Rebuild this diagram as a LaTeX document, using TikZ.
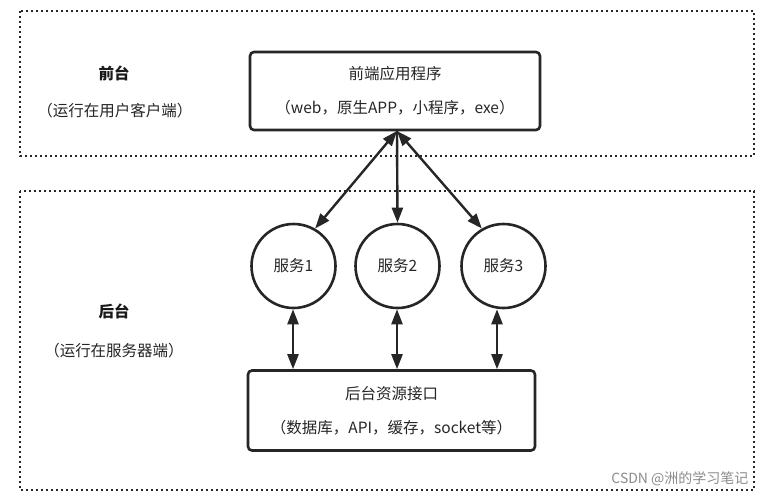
\documentclass[tikz,border=0pt]{standalone}
\usepackage{fontspec}
\setmainfont{Noto Sans CJK SC}
\usetikzlibrary{arrows.meta}
\begin{document}
\begin{tikzpicture}[x=1pt,y=-1pt,
  region/.style={draw=black!85, line width=2.2pt, dash pattern=on 2.2pt off 2.8pt, fill=white},
  appbox/.style={draw=black!85, line width=2.6pt, rounded corners=4pt, fill=white, minimum width=290pt, minimum height=78pt, align=center, font=\fontsize{15.5}{34}\selectfont, text=black!85},
  svc/.style={circle, draw=black!85, line width=2.6pt, minimum size=84pt, inner sep=0pt, font=\fontsize{15.5}{18}\selectfont, text=black!85},
  lbl/.style={font=\fontsize{15.5}{18}\selectfont, text=black!85},
  hd/.style={font=\bfseries\fontsize{15.5}{18}\selectfont, text=black!90},
  conn/.style={draw=black!85, line width=2.4pt, -{Triangle[length=15pt,width=11pt]}},
  biconn/.style={draw=black!85, line width=2.4pt, {Triangle[length=15pt,width=11pt]}-{Triangle[length=15pt,width=11pt]}}
]
\useasboundingbox (0,0) rectangle (769,501);
\fill[white] (0,0) rectangle (769,501);
\draw[region] (20,11) rectangle (754,156);
\draw[region] (20,191) rectangle (754,490);

\node[hd] (fh) at (114,73) {前台};
\node[lbl] (fs) at (115,111) {（运行在用户客户端）};
\node[hd] (bh) at (114,311) {后台};
\node[lbl] (bs) at (114,351) {（运行在服务器端）};

\node[appbox] (front) at (395,91) {前端应用程序\\（web，原生APP，小程序，exe）};
\node[appbox, minimum width=287pt, minimum height=80pt] (back) at (391.5,410.5) {后台资源接口\\（数据库，API，缓存，socket等）};

\node[svc] (s1) at (293.5,266) {服务1};
\node[svc] (s2) at (397.5,266) {服务2};
\node[svc] (s3) at (503.5,266) {服务3};

\coordinate (top) at (397,131);
\draw[biconn] (top) -- (s1.60);
\draw[conn] (top) -- (s2.north);
\draw[biconn] (top) -- (s3.120);

\draw[biconn] (s1.south -| 293,0) -- (back.north -| 293,0);
\draw[biconn] (s2.south -| 397,0) -- (back.north -| 397,0);
\draw[biconn] (s3.south -| 497,0) -- (back.north -| 497,0);

\node[font=\fontsize{14}{16}\selectfont, text=black!45, anchor=east] (wm) at (752,479) {CSDN @洲的学习笔记};
\end{tikzpicture}
\end{document}
